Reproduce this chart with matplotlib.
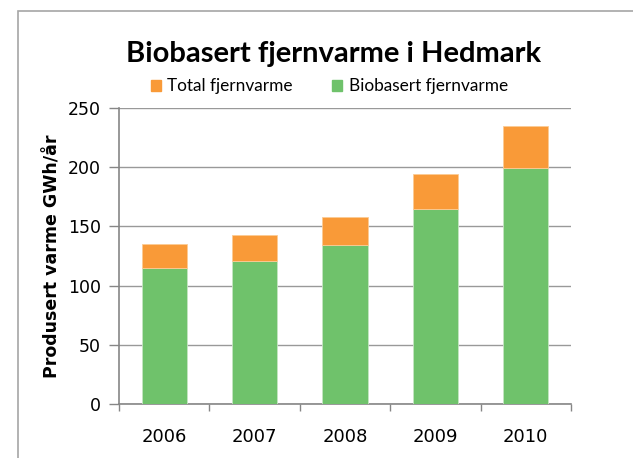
import matplotlib
matplotlib.use("Agg")
import matplotlib.pyplot as plt
from matplotlib.patches import Rectangle, Patch

# data
years = ["2006", "2007", "2008", "2009", "2010"]
total = [135, 143, 158, 194, 235]
biobasert = [115, 121, 134, 165, 199]

orange = "#F99A38"
green = "#6FC26B"
gray = "#868686"

fig = plt.figure(figsize=(6.33, 4.58), dpi=100)
ax = fig.add_axes([0.188, 0.118, 0.714, 0.646])

# outer chart frame
fig.patches.append(Rectangle((18 / 633, -0.1), 1.0, 1 - 11 / 458 + 0.1,
                             transform=fig.transFigure, fill=False,
                             edgecolor="#A6A6A6", linewidth=1.2))

x = range(len(years))
rest = [t - b for t, b in zip(total, biobasert)]
ax.bar(x, biobasert, width=0.5, color=green, edgecolor="#C5E5C3", linewidth=0.6, zorder=3)
ax.bar(x, rest, bottom=biobasert, width=0.5, color=orange, edgecolor="#FCCB95", linewidth=0.6, zorder=3)

ax.set_xlim(-0.5, len(years) - 0.5)
ax.set_ylim(0, 250)
ax.set_yticks(range(0, 251, 50))
ax.yaxis.grid(True, color="#999999", linewidth=1.0, zorder=0)

ax.set_xticks(x)
ax.set_xticklabels(years, fontsize=13, family="DejaVu Sans")
ax.set_xticks([i + 0.5 for i in range(-1, len(years))], minor=True)
ax.tick_params(axis="x", which="major", length=0, pad=17)
ax.tick_params(axis="x", which="minor", length=5, color=gray, width=1, direction="out")
ax.tick_params(axis="y", length=7, color=gray, width=1, direction="out", labelsize=12.5, pad=6)

for s in ["top", "right"]:
    ax.spines[s].set_visible(False)
for s in ["left", "bottom"]:
    ax.spines[s].set_color(gray)
    ax.spines[s].set_linewidth(1.2)

ax.set_ylabel("Produsert varme GWh/år", fontsize=12.5, fontweight="bold", labelpad=5)

fig.text(0.527, 0.882, "Biobasert fjernvarme i Hedmark", ha="center", va="center",
         fontsize=21, fontweight="bold", family="Lato")

handles = [Patch(color=orange, label="Total fjernvarme"),
           Patch(color=green, label="Biobasert fjernvarme")]
fig.legend(handles=handles, loc="center", bbox_to_anchor=(0.52, 0.812), ncol=2,
           frameon=False, prop={"family": "Lato", "size": 12.4},
           handlelength=0.6, handleheight=0.6, handletextpad=0.35, columnspacing=2.3)

fig.savefig("out.png", dpi=100)
